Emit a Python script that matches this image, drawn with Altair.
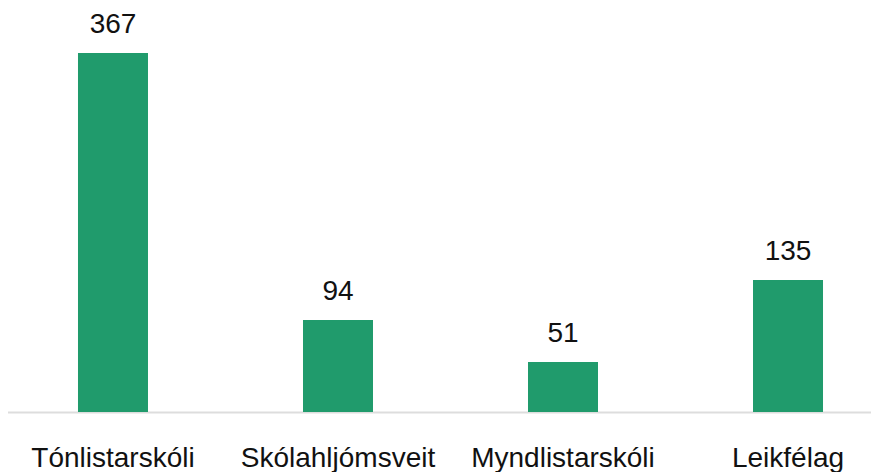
import altair as alt
import pandas as pd

categories = ["Tónlistarskóli", "Skólahljómsveit", "Myndlistarskóli", "Leikfélag"]
values = [367, 94, 51, 135]

df = pd.DataFrame({"flokkur": categories, "fjoldi": values})

FONT = "Liberation Sans"

x = alt.X(
    "flokkur:N",
    sort=categories,
    title=None,
    scale=alt.Scale(range=[-7.5, 892.5], paddingInner=0.6889, paddingOuter=0.3444),
    axis=alt.Axis(
        labelAngle=0,
        labelFont=FONT,
        labelFontSize=28,
        labelColor="#111111",
        labelBaseline="alphabetic",
        labelPadding=54,
        labelLimit=0,
        ticks=False,
        tickSize=0,
        domainColor="#dddddd",
        domainWidth=2,
        grid=False,
    ),
)
y = alt.Y("fjoldi:Q", title=None, scale=alt.Scale(domain=[0, 413], nice=False), axis=None)

base = alt.Chart(df).encode(x=x, y=y)

bars = base.mark_bar(color="#209b6c")
labels = base.mark_text(
    dy=-20, baseline="alphabetic", align="center", font=FONT, fontSize=28, color="#111111"
).encode(text="fjoldi:Q")

chart = (
    alt.layer(bars, labels)
    .properties(
        width=863,
        height=404,
        background="white",
        autosize=alt.AutoSizeParams(type="none"),
        padding={"left": 0, "top": 0, "right": 0, "bottom": 60},
    )
    .configure_view(stroke=None)
)

chart.save("out.html", embed_options={"renderer": "svg", "actions": False})
